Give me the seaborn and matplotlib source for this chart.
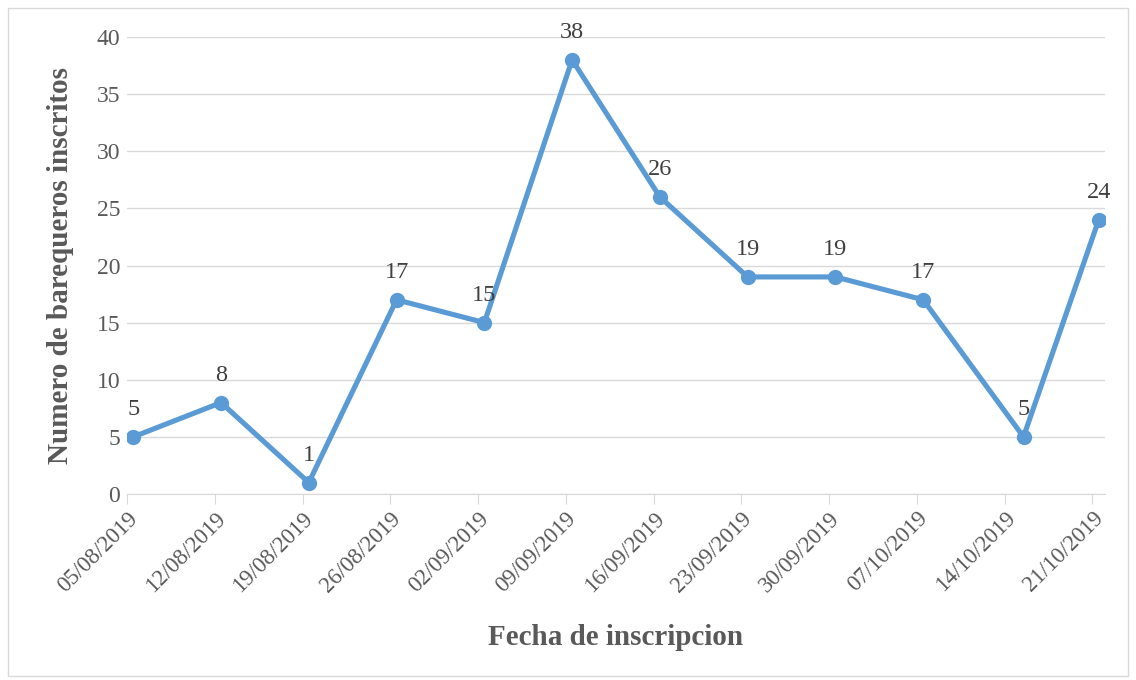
import pandas as pd
import matplotlib.pyplot as plt
import matplotlib.dates as mdates
import seaborn as sns

# Fechas de inscripcion y numero de barequeros
fechas = ["2019-08-05", "2019-08-12", "2019-08-19", "2019-08-26", "2019-09-02",
          "2019-09-09", "2019-09-16", "2019-09-23", "2019-09-30", "2019-10-07",
          "2019-10-15", "2019-10-21"]
inscritos = [5, 8, 1, 17, 15, 38, 26, 19, 19, 17, 5, 24]
ticks_fecha = ["2019-08-05", "2019-08-12", "2019-08-19", "2019-08-26", "2019-09-02",
               "2019-09-09", "2019-09-16", "2019-09-23", "2019-09-30", "2019-10-07",
               "2019-10-14", "2019-10-21"]

# Excel coloca cada punto en el centro del dia
data = pd.DataFrame({"fecha": pd.to_datetime(fechas) + pd.Timedelta(hours=12),
                     "inscritos": inscritos})

sns.set_style("white")
plt.rcParams['font.family'] = ['Liberation Serif', 'DejaVu Serif']

color_linea = "#5B9BD5"
gris_texto = "#595959"

fig = plt.figure(figsize=(11.36, 6.8), dpi=100)
ax = fig.add_axes([127 / 1136, 1 - 494 / 680, (1105 - 127) / 1136, (494 - 37) / 680])

sns.lineplot(data=data, x="fecha", y="inscritos", ax=ax, color=color_linea,
             linewidth=3.7, marker="o", markersize=11, markeredgewidth=0)

for f, v in zip(data["fecha"], data["inscritos"]):
    ax.annotate(str(v), (f, v), xytext=(0, 12), textcoords="offset points",
                ha="center", va="bottom", fontsize=17.5, color="#404040")

ax.set_xlim(pd.Timestamp("2019-08-05"), pd.Timestamp("2019-10-22"))
ax.set_ylim(0, 40)
ax.set_yticks(range(0, 41, 5))
ax.set_xticks(pd.to_datetime(ticks_fecha))
ax.xaxis.set_major_formatter(mdates.DateFormatter("%d/%m/%Y"))
plt.setp(ax.get_xticklabels(), rotation=45, ha="right", rotation_mode="anchor")

ax.grid(True, axis="y", color="#D9D9D9", linewidth=1)
ax.set_axisbelow(True)
for lado in ["top", "right", "left"]:
    ax.spines[lado].set_visible(False)
ax.spines["bottom"].set_color("#D9D9D9")
ax.tick_params(axis="x", length=7, color="#D9D9D9", labelsize=16.5,
               labelcolor=gris_texto, pad=3, bottom=True)
ax.tick_params(axis="y", length=0, labelsize=17, labelcolor=gris_texto, pad=5)

ax.set_xlabel("Fecha de inscripcion", fontsize=21, fontweight="bold",
              color=gris_texto, labelpad=20)
ax.set_ylabel("Numero de barequeros inscritos", fontsize=21, fontweight="bold",
              color=gris_texto, labelpad=16)

# Borde del grafico
fig.patches.append(plt.Rectangle((8 / 1136, 4 / 680), 1 - 16 / 1136, 1 - 12 / 680,
                                 transform=fig.transFigure, fill=False,
                                 edgecolor="#D9D9D9", linewidth=1))

plt.savefig("out.png", dpi=100)
plt.close()
